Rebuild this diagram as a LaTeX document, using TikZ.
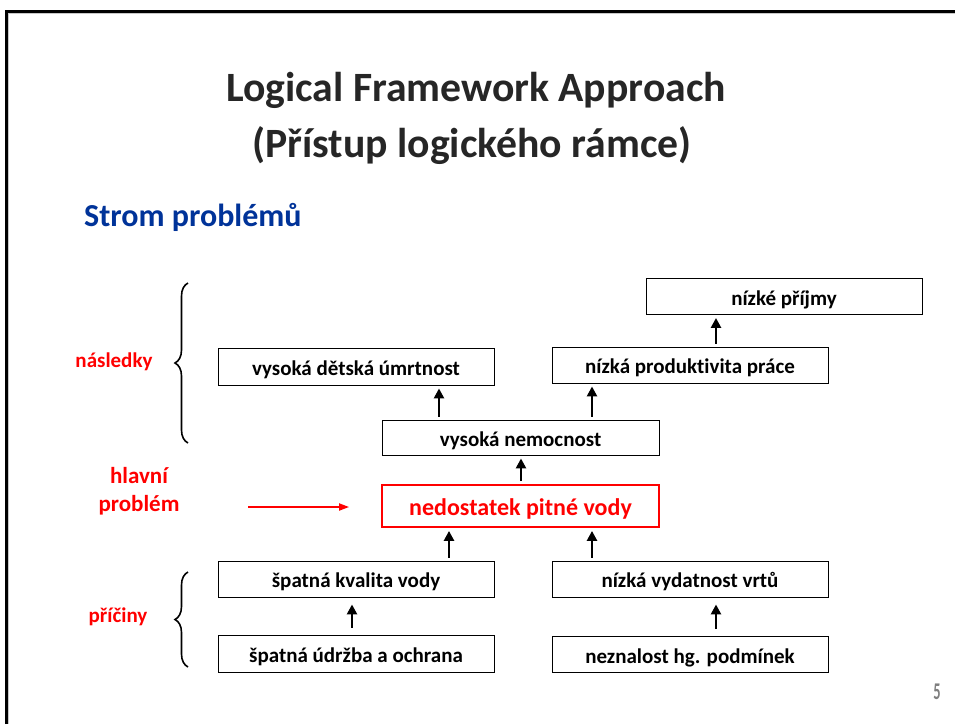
\documentclass[tikz,border=0pt]{standalone}
\usepackage{fontspec}
\setmainfont[Ligatures=NoCommon]{Carlito}
\usetikzlibrary{arrows.meta,decorations.pathreplacing}
\definecolor{titlegray}{RGB}{38,38,38}
\definecolor{stromblue}{RGB}{0,51,153}
\definecolor{pagegray}{RGB}{127,127,127}
\definecolor{shadowgray}{RGB}{200,200,200}
\tikzset{
  box/.style={draw=black, line width=0.9pt, minimum width=276pt, minimum height=36pt, inner sep=0pt,
    text height=20pt, text depth=3pt,
    font=\fontsize{21}{24}\selectfont\bfseries, text=black},
  mainbox/.style={box, draw=red, line width=1.8pt, minimum width=277pt, minimum height=42pt,
    text height=22pt, text depth=4pt,
    font=\fontsize{24}{28}\selectfont\bfseries, text=red},
  uparr/.style={line width=2.6pt, -{Triangle[width=10pt,length=10pt]}, shorten <=3pt, shorten >=3pt},
  redarr/.style={draw=red, line width=1.8pt, -{Triangle[width=7pt,length=10pt]}},
  sidelabel/.style={text=red, font=\fontsize{21}{24}\selectfont\bfseries, align=center},
  bracestyle/.style={line width=1.6pt, decorate, decoration={brace, amplitude=13pt}}
}
\begin{document}
\begin{tikzpicture}[x=1pt,y=-1pt]
\useasboundingbox (0,0) rectangle (955,724);
\fill[white] (0,0) rectangle (955,724);
% frame
\draw[shadowgray, line width=1pt] (8.8,14) -- (8.8,724);
\draw[shadowgray, line width=1pt] (8,13.8) -- (955,13.8);
\draw[black, line width=3pt] (6.5,724) -- (6.5,11.5) -- (955,11.5);
% title
\node[anchor=base, text=titlegray, font=\fontsize{41.7}{48}\selectfont\bfseries] (t1) at (476,101) {Logical Framework Approach};
\node[anchor=base, text=titlegray, font=\fontsize{41.7}{48}\selectfont\bfseries] (t2) at (472,157) {(Přístup logického rámce)};
\node[anchor=base west, inner sep=0pt, text=stromblue, font=\fontsize{32}{36}\selectfont\bfseries] (strom) at (84,226) {Strom problémů};
% boxes
\node[box] (prijmy) at (784,296.5) {nízké příjmy};
\node[box] (produkt) at (690,365) {nízká produktivita práce};
\node[box, minimum height=37pt] (umrtnost) at (356,366.5) {vysoká dětská úmrtnost};
\node[box, minimum width=277pt, minimum height=35pt] (nemocnost) at (520.5,437.5) {vysoká nemocnost};
\node[mainbox] (nedostatek) at (520.5,506) {nedostatek pitné vody};
\node[box] (kvalita) at (356,579) {špatná kvalita vody};
\node[box, minimum height=37pt] (udrzba) at (356,653.5) {špatná údržba a ochrana};
\node[box] (vydatnost) at (690,579) {nízká vydatnost vrtů};
\node[box] (neznalost) at (690,654.5) {neznalost hg. podmínek};
% arrows
\draw[uparr] (produkt.north -| 716,0) -- (prijmy.south -| 716,0);
\draw[uparr] (nemocnost.north -| 439,0) -- (umrtnost.south -| 439,0);
\draw[uparr] (nemocnost.north -| 592,0) -- (produkt.south -| 592,0);
\draw[uparr] (nedostatek.north -| 521,0) -- (nemocnost.south -| 521,0);
\draw[uparr] (kvalita.north -| 449,0) -- (nedostatek.south -| 449,0);
\draw[uparr] (vydatnost.north -| 592,0) -- (nedostatek.south -| 592,0);
\draw[uparr, shorten <=7pt, shorten >=7pt] (udrzba.north -| 352,0) -- (kvalita.south -| 352,0);
\draw[uparr, shorten <=7pt, shorten >=7pt] (neznalost.north -| 716,0) -- (vydatnost.south -| 716,0);
% side labels
\node[sidelabel] (nasledky) at (114,362) {následky};
\node[sidelabel, font=\fontsize{23}{28}\selectfont\bfseries] (hlavni) at (139,491) {hlavní\\problém};
\node[sidelabel] (priciny) at (118,617) {příčiny};
\coordinate (redstart) at (248,507);
\draw[redarr, shorten >=32pt] (redstart) -- (redstart -| nedostatek.west);
% braces
\draw[bracestyle] (188,443) -- (188,283);
\draw[bracestyle] (188,667) -- (188,572);
% page number
\node[text=pagegray, font=\fontsize{24}{26}\selectfont\bfseries] (page) at (937,692) {\scalebox{0.6}[1]{5}};
\end{tikzpicture}
\end{document}
